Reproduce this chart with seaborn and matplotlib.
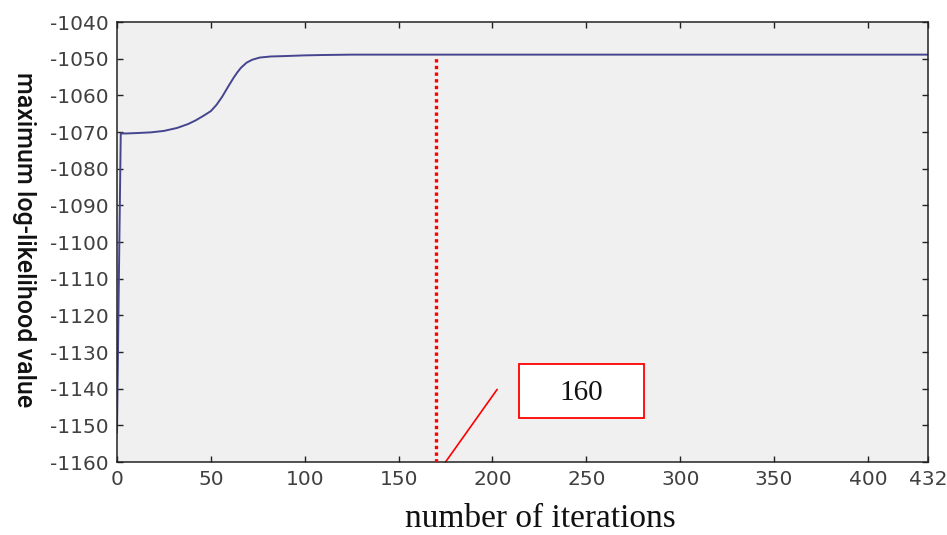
import matplotlib
matplotlib.use("Agg")
import matplotlib.pyplot as plt
import seaborn as sns
import pandas as pd
from matplotlib.patches import Rectangle

# ---- data ----
iterations = [0, 1, 2, 5, 10, 18, 25, 32, 38, 42, 46, 50, 53, 56, 59, 62, 64, 66, 69, 72, 76, 82, 89,
              100, 110, 125, 150, 200, 300, 432]
loglik = [-1152, -1110, -1070.4, -1070.4, -1070.3, -1070.1, -1069.7, -1068.9, -1067.8, -1066.8,
          -1065.6, -1064.3, -1062.6, -1060.4, -1057.8, -1055.3, -1053.8, -1052.5, -1051.1, -1050.3,
          -1049.7, -1049.4, -1049.3, -1049.1, -1049.0, -1048.9, -1048.9, -1048.9, -1048.9, -1048.9]
marker_iter = 170
marker_top = -1049.2
annot_text = "160"
xticks = [0, 50, 100, 150, 200, 250, 300, 350, 400, 432]
yticks = list(range(-1160, -1039, 10))

df = pd.DataFrame({"iter": iterations, "ll": loglik})

sns.set_theme(style="ticks")
plt.rcParams["font.family"] = ["DejaVu Sans"]
plt.rcParams["axes.unicode_minus"] = False

W, H = 947, 535
fig = plt.figure(figsize=(W / 100, H / 100), dpi=100)
ax = fig.add_axes([117 / W, 1 - 462 / H, (928 - 117) / W, (462 - 22) / H])
ax.set_facecolor("#f0f0f0")

sns.lineplot(data=df, x="iter", y="ll", ax=ax, color="#45458f", linewidth=1.4)

ax.vlines(marker_iter, -1160, marker_top, colors="red", linestyles=(0, (1, 1)), linewidth=2.4, zorder=3)

# annotation leader line and box
ax.plot([175, 202.5], [-1160, -1140.2], color="red", linewidth=1.2, clip_on=False)
ax.add_patch(Rectangle((214, -1147.9), 66.7, 14.7, facecolor="white", edgecolor="red", linewidth=1.3, zorder=4))
ax.text(247.5, -1141.3, annot_text, ha="center", va="center", fontsize=21,
        family=["Liberation Serif", "DejaVu Serif"], color="#111111", zorder=5)

ax.set_xlim(0, 432)
ax.set_ylim(-1160, -1040)
ax.set_xticks(xticks)
ax.set_yticks(yticks)
ax.tick_params(direction="in", top=True, right=True, length=4, width=1, color="#222222",
               labelsize=14.5, labelcolor="#404040", pad=6)
for s in ax.spines.values():
    s.set_color("#222222")
    s.set_linewidth(1.1)

ax.set_xlabel("")
ax.set_ylabel("")
fig.text(540 / W, 1 - 527 / H, "number of iterations", ha="center", va="baseline",
         fontsize=24, family=["Liberation Serif", "DejaVu Serif"], color="#111111")
fig.text(24 / W, 1 - 240 / H, "maximum log-likelihood value", ha="center", va="center",
         rotation=-90, fontsize=18, fontweight="medium",
         family=["Roboto", "DejaVu Sans"], color="#111111")

fig.savefig("out.png", dpi=100)
